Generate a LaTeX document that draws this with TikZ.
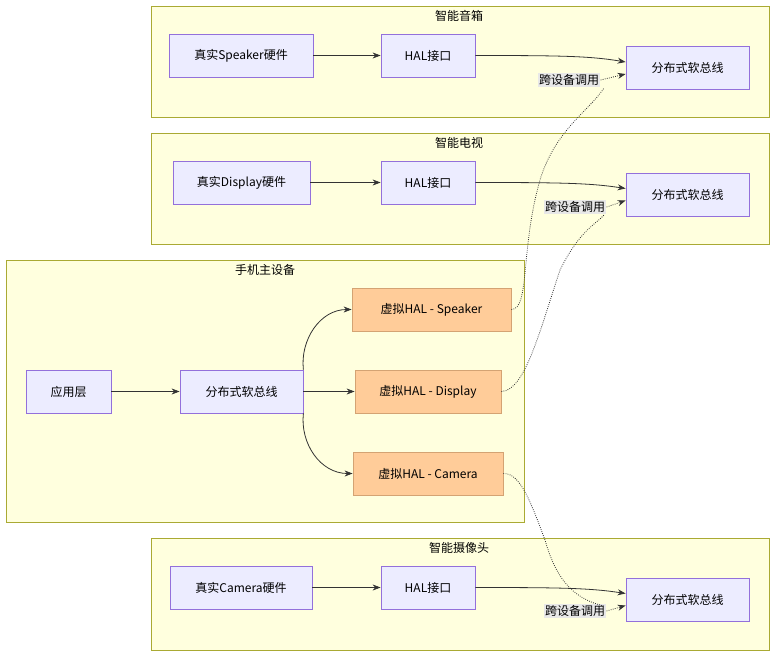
\documentclass[tikz,border=0pt]{standalone}
\usepackage{fontspec}
\setmainfont{Noto Sans CJK SC}
\usetikzlibrary{arrows.meta}
\definecolor{nf}{HTML}{ECECFF}\definecolor{ns}{HTML}{9370DB}
\definecolor{gf}{HTML}{FFFFDE}\definecolor{gs}{HTML}{AAAA33}
\definecolor{of}{HTML}{FFCC99}\definecolor{os}{HTML}{D4A373}
\definecolor{lf}{HTML}{E8E8E8}
\begin{document}
\begin{tikzpicture}[x=0.75pt,y=-0.75pt,font=\fontsize{9}{11}\selectfont,
 grp/.style={draw=gs,fill=gf,line width=0.6pt},
 n/.style={draw=ns,fill=nf,line width=0.6pt,minimum height=32.25pt,inner sep=0pt},
 v/.style={draw=os,fill=of,line width=0.6pt,minimum height=32.25pt,inner sep=0pt},
 lab/.style={fill=lf,inner sep=1pt},
 e/.style={-{Stealth[length=6pt,width=4.5pt]},line width=0.6pt,draw=black!80},
 d/.style={densely dotted,line width=0.6pt,draw=black!80}]
\useasboundingbox (0,0) rectangle (784,664);
\fill[white] (0,0) rectangle (784,664);
\draw[grp] (151,6) rectangle (769,117); \node (t1) at (459,16) {智能音箱};
\draw[grp] (151,133) rectangle (769,244); \node (t2) at (459,143) {智能电视};
\draw[grp] (6,260) rectangle (524,522); \node (t3) at (265,270) {手机主设备};
\draw[grp] (151,538) rectangle (769,650); \node (t4) at (459,548) {智能摄像头};
\node[n,minimum width=108pt] (rs) at (241,55.5) {真实Speaker硬件};
\node[n,minimum width=70.5pt] (h1) at (428,55.5) {HAL接口};
\node[n,minimum width=92.25pt] (b1) at (687.5,68) {分布式软总线};
\node[n,minimum width=102.75pt] (rd) at (241.5,182.5) {真实Display硬件};
\node[n,minimum width=70.5pt] (h2) at (428,182.5) {HAL接口};
\node[n,minimum width=92.25pt] (b2) at (687.5,194.5) {分布式软总线};
\node[n,minimum width=63.75pt] (app) at (68.5,391.5) {应用层};
\node[n,minimum width=92.25pt] (pb) at (241.5,391.5) {分布式软总线};
\node[v,minimum width=119.25pt] (vs) at (431.5,309.5) {虚拟HAL - Speaker};
\node[v,minimum width=109.5pt] (vd) at (428,391.5) {虚拟HAL - Display};
\node[v,minimum width=112.5pt] (vc) at (428,473.5) {虚拟HAL - Camera};
\node[n,minimum width=106.5pt] (rc) at (241,587.5) {真实Camera硬件};
\node[n,minimum width=70.5pt] (h3) at (428,587.5) {HAL接口};
\node[n,minimum width=92.25pt] (b3) at (687.5,599.5) {分布式软总线};
\node[lab] (l1) at (569,80) {跨设备调用};
\node[lab] (l2) at (575,207) {跨设备调用};
\node[lab] (l3) at (575,611) {跨设备调用};
\draw[e] (rs) -- (h1);
\draw[e] (rd) -- (h2);
\draw[e] (rc) -- (h3);
\draw[e] (h1.east) .. controls (560,55.5) and (590,56) .. ([yshift=4.5pt]b1.west);
\draw[e] (h2.east) .. controls (560,182.5) and (590,183) .. ([yshift=4.5pt]b2.west);
\draw[e] (h3.east) .. controls (560,587.5) and (590,588) .. ([yshift=4.5pt]b3.west);
\draw[e] (app) -- (pb);
\draw[e] (pb) -- (vd);
\draw[e] (pb.north east) .. controls (300,340) and (320,309.5) .. (vs.west);
\draw[e] (pb.south east) .. controls (300,443) and (320,473.5) .. (vc.west);
\draw[d] (vs.east) .. controls (530,309) and (520,250) .. (540,180) .. controls (555,130) and (590,110) .. (604,88);
\draw[d,-{Stealth[length=6pt,width=4.5pt]}] (l1.east) -- ([yshift=-4.5pt]b1.west);
\draw[d] (vd.east) .. controls (525,391) and (540,330) .. (560,270) .. controls (580,230) and (595,225) .. (604,215);
\draw[d,-{Stealth[length=6pt,width=4.5pt]}] (l2.east) -- ([yshift=-4.5pt]b2.west);
\draw[d] (vc.east) .. controls (520,473) and (530,500) .. (545,540) .. controls (555,575) and (570,598) .. (604,606);
\draw[d,-{Stealth[length=6pt,width=4.5pt]}] (l3.east) -- ([yshift=-4.5pt]b3.west);
\end{tikzpicture}
\end{document}
